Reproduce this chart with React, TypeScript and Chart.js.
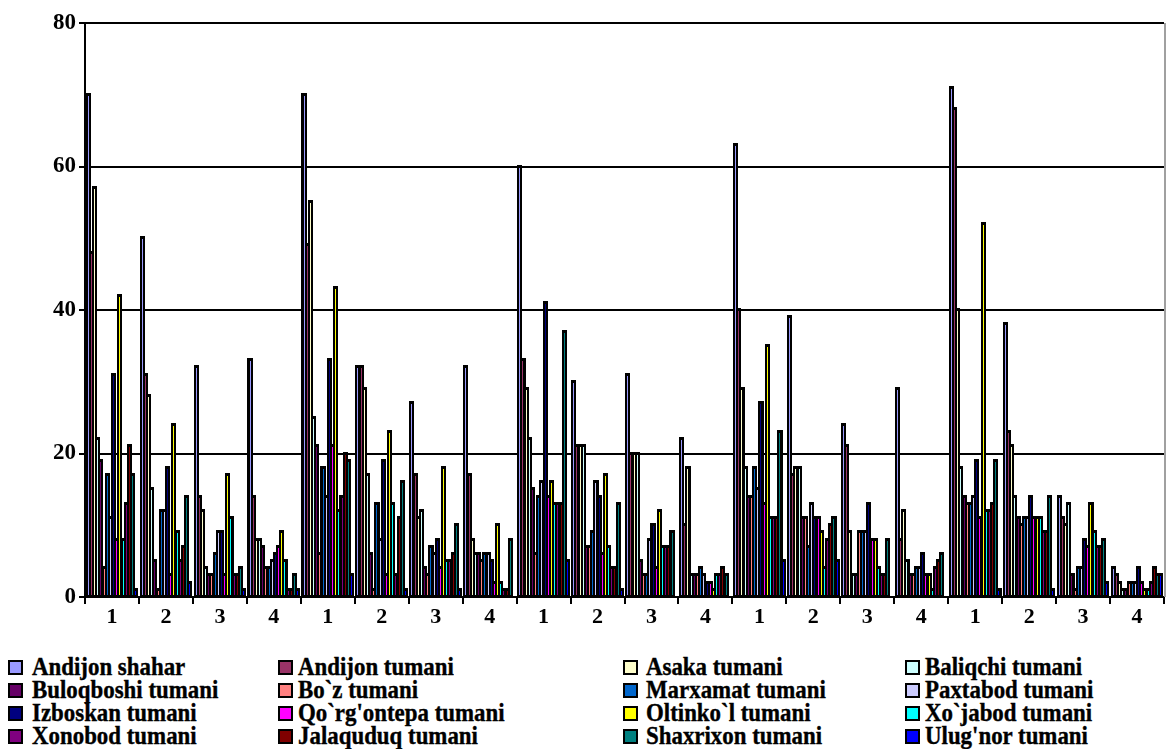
import React, { useEffect, useRef } from 'react';
import { Chart, registerables } from 'chart.js';

Chart.register(...registerables);

// Category tick labels (quarters 1-4, repeated for 5 years)
const categories = ['1', '2', '3', '4', '1', '2', '3', '4', '1', '2', '3', '4', '1', '2', '3', '4', '1', '2', '3', '4'];

const seriesNames = [
  'Andijon shahar', 'Andijon tumani', 'Asaka tumani', 'Baliqchi tumani',
  'Buloqboshi tumani', 'Bo`z tumani', 'Marxamat tumani', 'Paxtabod tumani',
  'Izboskan tumani', "Qo`rg'ontepa tumani", 'Oltinko`l tumani', 'Xo`jabod tumani',
  'Xonobod tumani', 'Jalaquduq tumani', 'Shaxrixon tumani', "Ulug'nor tumani",
];

const seriesColors = [
  '#9999FF', '#993366', '#FFFFCC', '#CCFFFF',
  '#660066', '#FF8080', '#0066CC', '#CCCCFF',
  '#000080', '#FF00FF', '#FFFF00', '#00FFFF',
  '#800080', '#800000', '#008080', '#0000FF',
];

const andijonShahar = [70, 50, 32, 33, 70, 32, 27, 32, 60, 30, 31, 22, 63, 39, 24, 29, 71, 38, 14, 4];
const andijonTumani = [48, 31, 14, 14, 49, 32, 17, 17, 33, 21, 20, 10, 40, 17, 21, 8, 68, 23, 11, 3];
const asakaTumani = [57, 28, 12, 8, 55, 29, 11, 8, 29, 21, 20, 18, 29, 18, 9, 12, 40, 21, 10, 2];
const baliqchiTumani = [22, 15, 4, 8, 25, 17, 12, 6, 22, 21, 20, 3, 18, 18, 3, 5, 18, 14, 13, 1];
const buloqboshiTumani = [19, 5, 3, 7, 21, 6, 4, 6, 15, 7, 5, 3, 14, 11, 3, 3, 14, 11, 3, 1];
const bozTumani = [4, 1, 3, 4, 6, 1, 3, 5, 6, 7, 3, 3, 14, 11, 9, 3, 13, 10, 1, 2];
const marxamatTumani = [17, 12, 6, 4, 18, 13, 7, 6, 14, 9, 3, 4, 18, 7, 9, 4, 13, 11, 4, 2];
const paxtabodTumani = [11, 12, 9, 5, 14, 8, 6, 6, 16, 16, 8, 3, 15, 13, 9, 4, 14, 11, 4, 2];
const izboskanTumani = [31, 18, 9, 6, 33, 19, 8, 5, 41, 14, 10, 2, 27, 11, 13, 6, 19, 14, 8, 4];
const qorgontepaTumani = [8, 3, 3, 7, 21, 3, 4, 2, 14, 6, 4, 2, 13, 11, 8, 3, 11, 11, 7, 2];
const oltinkolTumani = [42, 24, 17, 9, 43, 23, 18, 10, 16, 17, 12, 1, 35, 9, 8, 3, 52, 11, 13, 1];
const xojabodTumani = [8, 9, 11, 5, 12, 13, 5, 2, 13, 7, 7, 3, 11, 4, 4, 1, 12, 11, 9, 1];
const xonobodTumani = [13, 5, 3, 1, 14, 3, 5, 1, 13, 4, 7, 3, 11, 8, 3, 4, 12, 9, 7, 2];
const jalaqudugTumani = [21, 7, 3, 1, 20, 11, 6, 1, 13, 4, 7, 4, 11, 10, 3, 5, 13, 9, 7, 4];
const shaxrixonTumani = [17, 14, 4, 3, 19, 16, 10, 8, 37, 13, 9, 3, 23, 11, 8, 6, 19, 14, 8, 3];
const ulugnorTumani = [1, 2, 1, 1, 3, 1, 1, 0, 5, 1, 0, 0, 5, 5, 0, 0, 1, 1, 2, 3];

const seriesValues = [
  andijonShahar, andijonTumani, asakaTumani, baliqchiTumani,
  buloqboshiTumani, bozTumani, marxamatTumani, paxtabodTumani,
  izboskanTumani, qorgontepaTumani, oltinkolTumani, xojabodTumani,
  xonobodTumani, jalaqudugTumani, shaxrixonTumani, ulugnorTumani,
];

const yTicks = [0, 20, 40, 60, 80];

const FONT = "'Liberation Serif', 'Times New Roman', serif";

// Gives the bars the heavy black outline look of the original
// (outline centred on bar edges, thin coloured fill visible inside).
const outlineBarsPlugin = {
  id: 'outlineBars',
  afterDatasetsDraw(chart: any) {
    const ctx = chart.ctx;
    const bars: any[] = [];
    chart.data.datasets.forEach((ds: any, di: number) => {
      const meta = chart.getDatasetMeta(di);
      meta.data.forEach((el: any) => {
        const p = el.getProps(['x', 'y', 'base', 'width'], true);
        bars.push({ x: p.x, y: p.y, base: p.base, width: p.width, color: ds.backgroundColor });
      });
    });
    ctx.save();
    ctx.fillStyle = '#000000';
    bars.forEach((b) => {
      if (b.base - b.y < 0.5) return;
      const L = Math.round(b.x - b.width / 2) - 1;
      const R = Math.round(b.x + b.width / 2) + 1;
      const T = Math.round(b.y) - 2;
      ctx.fillRect(L, T, R - L, Math.round(b.base) - T);
    });
    bars.forEach((b) => {
      const T = Math.round(b.y) + 1;
      const B = Math.round(b.base) - 1;
      if (B - T < 1) return;
      ctx.fillStyle = b.color;
      ctx.fillRect(Math.floor(b.x), T, 1, B - T);
    });
    ctx.restore();
  },
};

const rightEdgePlugin = {
  id: 'rightEdge',
  afterDraw(chart: any) {
    const { ctx, chartArea } = chart;
    ctx.save();
    ctx.strokeStyle = '#a0a0a0';
    ctx.lineWidth = 2;
    ctx.beginPath();
    ctx.moveTo(chartArea.right + 1, chartArea.top);
    ctx.lineTo(chartArea.right + 1, chartArea.bottom);
    ctx.stroke();
    ctx.restore();
  },
};

const legendColX = [8, 278, 623, 905];
const legendTextX = [32, 298, 646, 925];

export default function App() {
  const canvasRef = useRef<HTMLCanvasElement | null>(null);

  useEffect(() => {
    if (!canvasRef.current) return;
    const chart = new Chart(canvasRef.current, {
      type: 'bar',
      data: {
        labels: categories,
        datasets: seriesNames.map((name, i) => ({
          label: name,
          data: seriesValues[i],
          backgroundColor: seriesColors[i],
          borderColor: '#000000',
          borderWidth: 0,
          inflateAmount: 0,
          categoryPercentage: 0.94,
          barPercentage: 1,
        })),
      },
      options: {
        responsive: false,
        devicePixelRatio: 1,
        animation: false,
        layout: { padding: { top: 23, right: 3, left: 0, bottom: 0 } },
        plugins: {
          legend: { display: false },
          tooltip: { enabled: false },
        },
        scales: {
          x: {
            type: 'category',
            grid: {
              display: true,
              drawOnChartArea: false,
              drawTicks: true,
              tickLength: 7,
              color: '#000000',
              lineWidth: 2,
              offset: true,
            },
            border: { color: '#000000', width: 2 },
            ticks: {
              color: '#000000',
              font: { family: FONT, size: 22, weight: 'bold' },
              maxRotation: 0,
              autoSkip: false,
              padding: 0,
            },
            afterFit: (scale: any) => {
              scale.height = 43;
            },
          },
          y: {
            min: 0,
            max: 80,
            afterBuildTicks: (scale: any) => {
              scale.ticks = yTicks.map((v) => ({ value: v }));
            },
            grid: {
              color: '#000000',
              lineWidth: 2,
              drawTicks: true,
              tickLength: 6,
            },
            border: { color: '#000000', width: 2 },
            ticks: {
              color: '#000000',
              font: { family: FONT, size: 23, weight: 'bold' },
              padding: 3,
            },
            afterFit: (scale: any) => {
              scale.width = 85;
            },
          },
        },
      },
      plugins: [outlineBarsPlugin, rightEdgePlugin],
    });
    return () => chart.destroy();
  }, []);

  return (
    <div style={{ position: 'fixed', left: 0, top: 0, width: 1167, height: 749, background: '#ffffff', overflow: 'hidden' }}>
      <canvas ref={canvasRef} width={1167} height={640} style={{ position: 'absolute', left: 0, top: 0, width: 1167, height: 640 }} />
      {seriesNames.map((name, i) => {
        const row = Math.floor(i / 4);
        const col = i % 4;
        const top = 660 + row * 23;
        return (
          <React.Fragment key={name}>
            <div
              style={{
                position: 'absolute',
                left: legendColX[col],
                top: top,
                width: 11,
                height: 11,
                border: '2px solid #000000',
                background: seriesColors[i],
              }}
            />
            <div
              style={{
                position: 'absolute',
                left: legendTextX[col],
                top: top - 5,
                fontFamily: FONT,
                fontWeight: 'bold',
                fontSize: 26,
                lineHeight: '23px',
                whiteSpace: 'nowrap',
                color: '#000000',
                WebkitTextStroke: '0.4px #000000',
                transform: 'scaleX(0.88)',
                transformOrigin: 'left top',
              }}
            >
              {name}
            </div>
          </React.Fragment>
        );
      })}
    </div>
  );
}
